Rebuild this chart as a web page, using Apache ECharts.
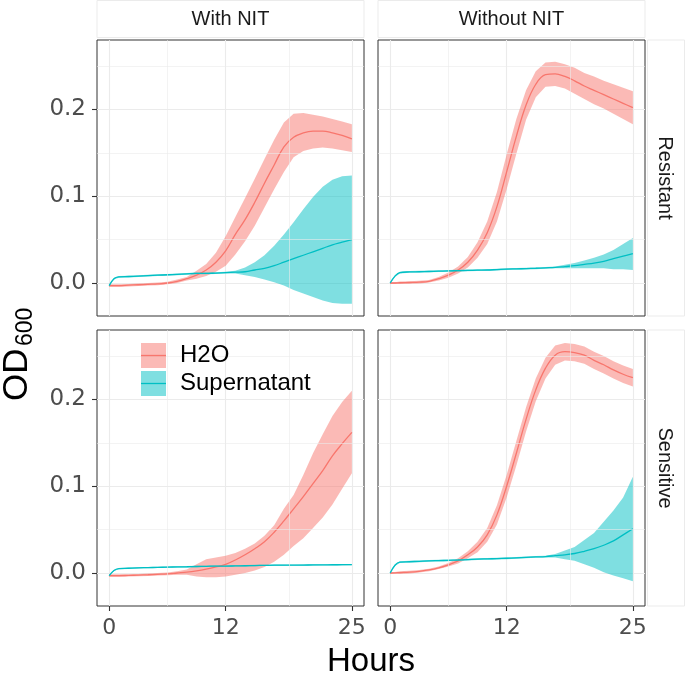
<!DOCTYPE html>
<html><head><meta charset="utf-8">
<script src="https://cdn.jsdelivr.net/npm/echarts@6/dist/echarts.min.js"></script>
<style>html,body{margin:0;padding:0;background:#fff}#c{width:685px;height:677px}</style>
</head><body><div id="c"></div>
<script>
// ---------------- data ----------------
const hours = [0,0.5,1,2,3,4,5,6,7,8,9,10,11,12,13,14,15,16,17,18,19,20,21,22,23,24,25];
const colLabels = ['With NIT','Without NIT'];
const rowLabels = ['Resistant','Sensitive'];
const groupNames = ['H2O','Supernatant'];
const xTickValues = [0,12,25];
const yTickValues = [0,0.1,0.2];
const xMinorValues = [6,18.5];
const yMinorValues = [0.05,0.15,0.25];

// With NIT / Resistant
const wR_h2o_mean = [-0.003,-0.003,-0.003,-0.0025,-0.002,-0.0015,-0.001,0.0,0.002,0.005,0.009,0.015,0.024,0.037,0.056,0.073,0.093,0.115,0.136,0.157,0.168,0.173,0.175,0.175,0.173,0.170,0.166];
const wR_h2o_lo   = [-0.0045,-0.0045,-0.0045,-0.004,-0.0035,-0.003,-0.0025,-0.0015,0.0,0.003,0.005,0.008,0.013,0.020,0.033,0.048,0.066,0.087,0.108,0.128,0.145,0.152,0.155,0.156,0.155,0.153,0.151];
const wR_h2o_hi   = [-0.0015,-0.0015,-0.0015,-0.001,-0.0005,0.0,0.0005,0.0015,0.004,0.007,0.014,0.022,0.035,0.054,0.076,0.098,0.120,0.143,0.165,0.185,0.195,0.196,0.194,0.192,0.189,0.186,0.183];
const wR_sup_mean = [-0.003,0.005,0.007,0.0075,0.008,0.0085,0.009,0.0095,0.010,0.0105,0.011,0.011,0.0115,0.012,0.0125,0.013,0.015,0.017,0.020,0.024,0.028,0.032,0.036,0.040,0.044,0.047,0.050];
const wR_sup_lo   = [-0.004,0.004,0.006,0.0065,0.007,0.0075,0.008,0.0085,0.009,0.0095,0.010,0.010,0.0105,0.011,0.011,0.009,0.007,0.004,0.001,-0.003,-0.008,-0.012,-0.016,-0.020,-0.023,-0.024,-0.024];
const wR_sup_hi   = [-0.002,0.006,0.008,0.0085,0.009,0.0095,0.010,0.0105,0.011,0.0115,0.012,0.012,0.0125,0.013,0.014,0.018,0.024,0.032,0.043,0.056,0.070,0.085,0.099,0.111,0.119,0.123,0.124];

// Without NIT / Resistant
const woR_h2o_mean = [0.0,0.0,0.0003,0.0006,0.001,0.002,0.005,0.009,0.015,0.024,0.038,0.058,0.088,0.128,0.169,0.205,0.229,0.240,0.241,0.238,0.233,0.227,0.222,0.217,0.212,0.207,0.202];
const woR_h2o_lo   = [-0.001,-0.001,-0.0012,-0.0009,-0.0005,0.0005,0.003,0.006,0.011,0.018,0.029,0.045,0.071,0.108,0.149,0.188,0.214,0.226,0.227,0.224,0.218,0.212,0.206,0.201,0.195,0.189,0.183];
const woR_h2o_hi   = [0.001,0.001,0.0018,0.0021,0.0025,0.0035,0.007,0.012,0.019,0.030,0.047,0.071,0.105,0.148,0.189,0.222,0.244,0.254,0.255,0.252,0.248,0.242,0.238,0.233,0.229,0.225,0.221];
const woR_sup_mean = [0.0,0.008,0.012,0.0128,0.013,0.0133,0.0136,0.014,0.0142,0.0145,0.0148,0.015,0.0155,0.016,0.0163,0.0166,0.017,0.0175,0.018,0.019,0.020,0.0215,0.023,0.025,0.028,0.031,0.034];
const woR_sup_lo   = [-0.001,0.007,0.011,0.0118,0.012,0.0123,0.0126,0.013,0.0132,0.0135,0.0138,0.014,0.0145,0.015,0.0153,0.0156,0.016,0.0165,0.017,0.017,0.017,0.017,0.017,0.017,0.016,0.016,0.015];
const woR_sup_hi   = [0.001,0.009,0.013,0.0138,0.014,0.0143,0.0146,0.015,0.0152,0.0155,0.0158,0.016,0.0165,0.017,0.0173,0.0176,0.018,0.0185,0.019,0.021,0.023,0.026,0.029,0.033,0.038,0.045,0.052];

// With NIT / Sensitive
const wS_h2o_mean = [-0.003,-0.003,-0.003,-0.0027,-0.0024,-0.002,-0.0015,-0.001,0.0,0.001,0.0025,0.0045,0.007,0.010,0.015,0.021,0.028,0.036,0.047,0.060,0.074,0.088,0.103,0.118,0.135,0.149,0.162];
const wS_h2o_lo   = [-0.0045,-0.0045,-0.0045,-0.004,-0.0038,-0.0035,-0.003,-0.0025,-0.002,-0.002,-0.004,-0.005,-0.005,-0.004,-0.002,0.0,0.003,0.007,0.013,0.021,0.031,0.040,0.052,0.064,0.079,0.097,0.115];
const wS_h2o_hi   = [-0.0015,-0.0015,-0.0015,-0.0013,-0.001,-0.0005,0.0,0.0005,0.002,0.004,0.010,0.016,0.018,0.020,0.023,0.028,0.034,0.043,0.055,0.074,0.090,0.113,0.138,0.160,0.181,0.197,0.210];
const wS_sup_mean = [-0.003,0.003,0.005,0.0055,0.006,0.0062,0.0065,0.0068,0.007,0.0072,0.0075,0.0077,0.008,0.008,0.0082,0.0084,0.0086,0.0088,0.009,0.009,0.0091,0.0092,0.0093,0.0094,0.0095,0.0096,0.0097];
const wS_sup_lo   = [-0.0038,0.0022,0.0042,0.0047,0.0052,0.0054,0.0057,0.006,0.0062,0.0064,0.0067,0.0069,0.0072,0.0072,0.0074,0.0076,0.0078,0.008,0.0082,0.0082,0.0083,0.0084,0.0085,0.0086,0.0087,0.0088,0.0089];
const wS_sup_hi   = [-0.0022,0.0038,0.0058,0.0063,0.0068,0.007,0.0073,0.0076,0.0078,0.008,0.0083,0.0085,0.0088,0.0088,0.009,0.0092,0.0094,0.0096,0.0098,0.0098,0.0099,0.01,0.0101,0.0102,0.0103,0.0104,0.0105];

// Without NIT / Sensitive
const woS_h2o_mean = [0.0,0.0002,0.0005,0.001,0.002,0.0035,0.006,0.0095,0.014,0.021,0.030,0.044,0.067,0.100,0.138,0.177,0.211,0.236,0.251,0.255,0.254,0.251,0.245,0.240,0.234,0.229,0.225];
const woS_h2o_lo   = [-0.001,-0.0008,-0.001,-0.0005,0.0005,0.002,0.0045,0.0075,0.011,0.017,0.024,0.036,0.056,0.087,0.124,0.163,0.198,0.224,0.240,0.245,0.244,0.241,0.235,0.230,0.224,0.219,0.215];
const woS_h2o_hi   = [0.001,0.0012,0.002,0.0025,0.0035,0.005,0.0075,0.0115,0.017,0.025,0.036,0.052,0.078,0.113,0.152,0.191,0.224,0.248,0.262,0.265,0.264,0.261,0.255,0.250,0.244,0.239,0.235];
const woS_sup_mean = [0.0,0.009,0.0125,0.013,0.0135,0.014,0.0143,0.0146,0.015,0.0155,0.016,0.0163,0.0166,0.017,0.0175,0.018,0.0185,0.019,0.020,0.021,0.0225,0.025,0.028,0.032,0.037,0.044,0.051];
const woS_sup_lo   = [-0.001,0.008,0.0115,0.012,0.0125,0.013,0.0133,0.0136,0.014,0.0145,0.015,0.0153,0.0156,0.016,0.0165,0.017,0.0175,0.018,0.018,0.016,0.014,0.010,0.006,0.001,-0.003,-0.006,-0.0095];
const woS_sup_hi   = [0.001,0.010,0.0135,0.014,0.0145,0.015,0.0153,0.0156,0.016,0.0165,0.017,0.0173,0.0176,0.018,0.0185,0.019,0.0195,0.020,0.022,0.026,0.030,0.038,0.046,0.059,0.072,0.087,0.111];

// ---------------- layout / style ----------------
const lineColors = ['#F8766D','#00BFC4'];
const panels = [
  {grid:{left:97, top:40, width:267, height:276}, row:0, col:0,
   g:[[wR_h2o_mean,wR_h2o_lo,wR_h2o_hi],[wR_sup_mean,wR_sup_lo,wR_sup_hi]]},
  {grid:{left:378, top:40, width:267, height:276}, row:0, col:1,
   g:[[woR_h2o_mean,woR_h2o_lo,woR_h2o_hi],[woR_sup_mean,woR_sup_lo,woR_sup_hi]]},
  {grid:{left:97, top:330, width:267, height:276}, row:1, col:0,
   g:[[wS_h2o_mean,wS_h2o_lo,wS_h2o_hi],[wS_sup_mean,wS_sup_lo,wS_sup_hi]]},
  {grid:{left:378, top:330, width:267, height:276}, row:1, col:1,
   g:[[woS_h2o_mean,woS_h2o_lo,woS_h2o_hi],[woS_sup_mean,woS_sup_lo,woS_sup_hi]]}
];
const tickFont = 'DejaVu Sans';

const grids = [], xAxes = [], yAxes = [], series = [];
panels.forEach((p, i) => {
  grids.push(Object.assign({show:true, borderColor:'#333333', borderWidth:1, backgroundColor:'#ffffff', containLabel:false}, p.grid));
  const showX = p.row === 1, showY = p.col === 0;
  xAxes.push({type:'value', gridIndex:i, min:-1.25, max:26.25, position:'bottom',
    axisLine:{show:false, onZero:false},
    axisTick:{show:showX, customValues:xTickValues, length:5, lineStyle:{color:'#333333', width:1.1}},
    axisLabel:{show:showX, customValues:xTickValues, fontSize:22, fontFamily:tickFont, color:'#4d4d4d', margin:11},
    splitLine:{show:true, lineStyle:{color:'#ebebeb', width:1.1}}});
  yAxes.push({type:'value', gridIndex:i, min:-0.038, max:0.28, position:'left',
    axisLine:{show:false, onZero:false},
    axisTick:{show:showY, customValues:yTickValues, length:5, lineStyle:{color:'#333333', width:1.1}},
    axisLabel:{show:showY, customValues:yTickValues, fontSize:23, fontFamily:tickFont, color:'#4d4d4d', margin:11,
      formatter:v => v.toFixed(1)},
    splitLine:{show:true, lineStyle:{color:'#ebebeb', width:1.1}}});
  // minor grid lines
  series.push({type:'line', xAxisIndex:i, yAxisIndex:i, data:[], z:1, silent:true,
    markLine:{silent:true, symbol:'none', animation:false, label:{show:false},
      lineStyle:{color:'#ebebeb', width:0.6, type:'solid'},
      data: xMinorValues.map(v => ({xAxis:v})).concat(yMinorValues.map(v => ({yAxis:v})))}});
  // ribbons
  p.g.forEach((arr, gi) => {
    const lo = arr[1], hi = arr[2];
    series.push({type:'custom', name:groupNames[gi], xAxisIndex:i, yAxisIndex:i, z:2, silent:true,
      data: hours.map((h,k) => [h, lo[k], hi[k]]),
      encode:{x:0, y:[1,2]},
      renderItem:(params, api) => {
        if (params.dataIndex !== 0) return null;
        const pts = [];
        for (let k = 0; k < hours.length; k++) pts.push(api.coord([hours[k], hi[k]]));
        for (let k = hours.length - 1; k >= 0; k--) pts.push(api.coord([hours[k], lo[k]]));
        return {type:'polygon', shape:{points:pts}, style:{fill:lineColors[gi], opacity:0.5}};
      }});
  });
  // mean lines
  p.g.forEach((arr, gi) => {
    series.push({type:'line', name:groupNames[gi], xAxisIndex:i, yAxisIndex:i, z:3, silent:true,
      data: hours.map((h,k) => [h, arr[0][k]]), showSymbol:false, smooth:0.4,
      lineStyle:{color:lineColors[gi], width:1.3}, itemStyle:{color:lineColors[gi]}});
  });
});

// strips, axis titles, legend
const graphic = [];
panels.filter(p => p.row === 0).forEach(p => {
  graphic.push({type:'rect', shape:{x:p.grid.left, y:0.5, width:p.grid.width, height:37},
    style:{fill:'#ffffff', stroke:'#ebebeb', lineWidth:1}, silent:true});
  graphic.push({type:'text', x:p.grid.left + p.grid.width/2, y:19,
    style:{text:colLabels[p.col], font:'20px "Liberation Sans"', fill:'#1a1a1a', textAlign:'center', textVerticalAlign:'middle'}, silent:true});
});
panels.filter(p => p.col === 1).forEach(p => {
  graphic.push({type:'rect', shape:{x:647.5, y:p.grid.top, width:37, height:p.grid.height},
    style:{fill:'#ffffff', stroke:'#ebebeb', lineWidth:1}, silent:true});
  graphic.push({type:'text', x:665, y:p.grid.top + p.grid.height/2, rotation:-Math.PI/2,
    style:{text:rowLabels[p.row], font:'20px "Liberation Sans"', fill:'#1a1a1a', textAlign:'center', textVerticalAlign:'middle'}, silent:true});
});
graphic.push({type:'text', x:371, y:662,
  style:{text:'Hours', font:'33px "Liberation Sans"', fill:'#000000', textAlign:'center', textVerticalAlign:'middle'}, silent:true});
graphic.push({type:'text', x:17, y:401, rotation:Math.PI/2,
  style:{text:'OD', font:'35px "Liberation Sans"', fill:'#000000', textAlign:'left', textVerticalAlign:'middle'}, silent:true});
graphic.push({type:'text', x:26, y:346, rotation:Math.PI/2,
  style:{text:'600', font:'23px "Liberation Sans"', fill:'#000000', textAlign:'left', textVerticalAlign:'middle'}, silent:true});
// legend
groupNames.forEach((name, gi) => {
  const y0 = 343 + gi * 28;
  graphic.push({type:'rect', shape:{x:141, y:y0, width:25, height:25}, style:{fill:lineColors[gi], opacity:0.5}, silent:true, z:10});
  graphic.push({type:'line', shape:{x1:141, y1:y0+12.5, x2:166, y2:y0+12.5}, style:{stroke:lineColors[gi], lineWidth:1.3}, silent:true, z:10});
  graphic.push({type:'text', x:180, y:y0+12.5, z:10,
    style:{text:name, font:'24px "Liberation Sans"', fill:'#000000', textAlign:'left', textVerticalAlign:'middle'}, silent:true});
});

const chart = echarts.init(document.getElementById('c'), null, {renderer:'canvas'});
chart.setOption({animation:false, backgroundColor:'#ffffff', grid:grids, xAxis:xAxes, yAxis:yAxes, series:series, graphic:graphic});
</script></body></html>
